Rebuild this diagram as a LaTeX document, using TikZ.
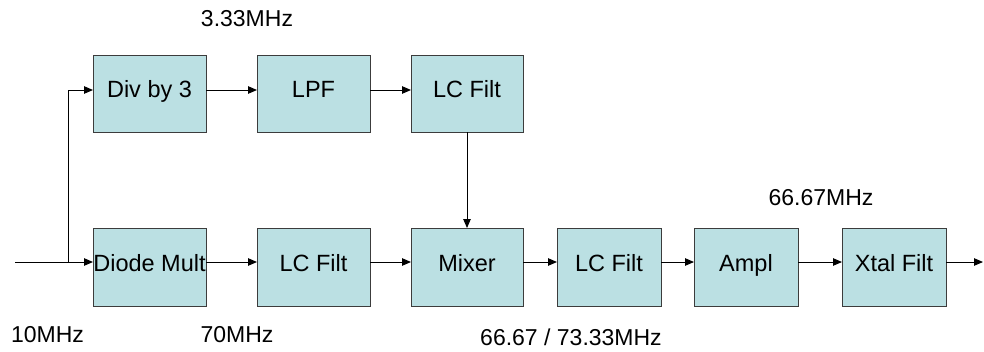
\documentclass[tikz,border=0pt]{standalone}
\usepackage{fontspec}
\setmainfont{Liberation Sans}
\usetikzlibrary{arrows.meta}
\definecolor{boxfill}{RGB}{187,224,227}
\definecolor{boxline}{RGB}{60,60,60}
\begin{document}
\begin{tikzpicture}[x=1pt,y=-1pt,
  blk/.style={draw=boxline,fill=boxfill,line width=1pt,inner sep=0pt,outer sep=0pt,anchor=north west,minimum height=77pt,font=\fontsize{23.5}{26}\selectfont,text height=0.9em,text depth=0.06em},
  conn/.style={line width=1pt,-{Triangle[length=9pt,width=7.5pt]}},
  lbl/.style={font=\fontsize{23}{26}\selectfont,inner sep=0pt,anchor=base}]
\useasboundingbox (0,0) rectangle (984,351);
% top row
\node[blk,minimum width=113pt] (div) at (93,55) {Div by 3};
\node[blk,minimum width=113pt] (lpf) at (257,55) {LPF};
\node[blk,minimum width=112pt] (lca) at (411,55) {LC Filt};
% bottom row
\node[blk,minimum width=113pt,minimum height=78pt] (dm) at (93,228) {Diode Mult};
\node[blk,minimum width=113pt,minimum height=78pt] (lcb) at (257,228) {LC Filt};
\node[blk,minimum width=112pt,minimum height=78pt] (mix) at (411,228) {Mixer};
\node[blk,minimum width=104pt,minimum height=78pt] (lcc) at (557,228) {LC Filt};
\node[blk,minimum width=104pt,minimum height=78pt] (amp) at (694,228) {Ampl};
\node[blk,minimum width=104pt,minimum height=78pt] (xt) at (842,228) {Xtal Filt};
% coordinates
\coordinate (in) at (15,262);
\coordinate (br) at (68,262);
\coordinate (out) at (983,262);
% connectors
\draw[conn] (in) -- (in -| dm.west);
\draw[conn] (br) |- ([yshift=3.5pt]div.west);
\draw[conn] ([yshift=3.5pt]div.east) -- ([yshift=3.5pt]lpf.west);
\draw[conn] ([yshift=3.5pt]lpf.east) -- ([yshift=3.5pt]lca.west);
\draw[conn] (lca.south) -- (mix.north);
\draw[conn] ([yshift=5pt]dm.east) -- ([yshift=5pt]lcb.west);
\draw[conn] ([yshift=5pt]lcb.east) -- ([yshift=5pt]mix.west);
\draw[conn] ([yshift=5pt]mix.east) -- ([yshift=5pt]lcc.west);
\draw[conn] ([yshift=5pt]lcc.east) -- ([yshift=5pt]amp.west);
\draw[conn] ([yshift=5pt]amp.east) -- ([yshift=5pt]xt.west);
\draw[conn] (out -| xt.east) -- (out);
% labels
\node[lbl] (l333) at (247,26) {3.33MHz};
\node[lbl] (l10) at (47.5,342) {10MHz};
\node[lbl] (l70) at (237,342) {70MHz};
\node[lbl] (lmix) at (571,345) {66.67 / 73.33MHz};
\node[lbl] (l6667) at (821,205) {66.67MHz};
\end{tikzpicture}
\end{document}
